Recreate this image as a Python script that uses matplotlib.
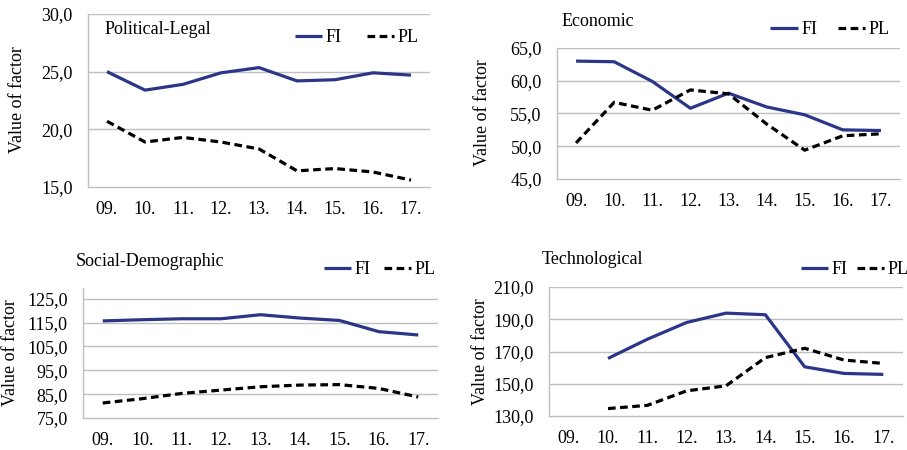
import matplotlib.pyplot as plt
import numpy as np

# Datos
years = ["09.", "10.", "11.", "12.", "13.", "14.", "15.", "16.", "17."]

pol_fi = [25.0, 23.4, 23.9, 24.9, 25.35, 24.2, 24.3, 24.9, 24.7]
pol_pl = [20.7, 18.9, 19.3, 18.9, 18.3, 16.4, 16.6, 16.3, 15.6]

eco_fi = [63.0, 62.9, 59.9, 55.8, 58.1, 56.0, 54.8, 52.5, 52.4]
eco_pl = [50.5, 56.7, 55.5, 58.6, 58.0, 53.4, 49.4, 51.6, 51.9]

soc_fi = [115.7, 116.2, 116.6, 116.6, 118.3, 116.9, 115.9, 111.2, 109.8]
soc_pl = [81.3, 83.1, 85.3, 86.7, 88.1, 88.8, 89.0, 87.4, 83.8]

tec_fi = [np.nan, 165.7, 177.6, 188.0, 193.8, 192.8, 160.5, 156.4, 155.8]
tec_pl = [np.nan, 134.6, 136.6, 145.6, 148.7, 166.2, 172.0, 164.7, 162.6]

W, H = 907, 450
navy = "#2B3688"
grid_c = "#BFBFBF"

plt.rcParams["font.family"] = ["Liberation Serif", "DejaVu Serif"]
plt.rcParams["font.size"] = 13

fig = plt.figure(figsize=(W / 100, H / 100), dpi=100)


def caja(l, r, t, b):
    # convierte pixeles a fracciones de la figura
    return [l / W, 1 - b / H, (r - l) / W, (b - t) / H]


def panel(rect, fi, pl, ymin, ymax, step, ytop):
    ax = fig.add_axes(caja(*rect))
    x = np.arange(len(years))
    ax.plot(x, fi, color=navy, lw=2.3, label="FI", solid_capstyle="butt")
    ax.plot(x, pl, color="black", lw=2.3, ls=(0, (2.4, 1.4)), label="PL")
    ax.set_xlim(-0.5, len(years) - 0.5)
    ax.set_ylim(ymin, ytop)
    ticks = np.arange(ymin, ymax + step / 2, step)
    ax.set_yticks(ticks)
    ax.set_yticklabels([f"{t:.1f}".replace(".", ",") for t in ticks])
    ax.set_xticks(x)
    ax.set_xticklabels(years)
    ax.tick_params(axis="y", length=0, pad=11)
    ax.tick_params(axis="x", length=0, pad=10)
    for t in ticks[1:]:
        ax.axhline(t, color=grid_c, lw=1, zorder=0)
    for s in ["top", "right"]:
        ax.spines[s].set_visible(False)
    for s in ["left", "bottom"]:
        ax.spines[s].set_color(grid_c)
        ax.spines[s].set_linewidth(1)
    return ax


def leyenda(ax, cx, cy, esp):
    ax.legend(loc="center", bbox_to_anchor=(cx / W, 1 - cy / H),
              bbox_transform=fig.transFigure, ncol=2, frameon=False,
              handlelength=1.5, handletextpad=0.2, columnspacing=esp,
              borderpad=0, borderaxespad=0)


ax1 = panel((88, 430, 14, 187), pol_fi, pol_pl, 15, 30, 5, 30)
ax2 = panel((557, 900, 48, 179), eco_fi, eco_pl, 45, 65, 5, 65)
ax3 = panel((83, 438, 288, 418), soc_fi, soc_pl, 75, 125, 10, 129.5)
ax4 = panel((549, 903, 287, 416), tec_fi, tec_pl, 130, 210, 20, 210)

leyenda(ax1, 357, 38, 1.4)
leyenda(ax2, 830, 30, 1.15)
leyenda(ax3, 380, 270, 0.75)
leyenda(ax4, 855, 270, 0.5)

# titulos de cada panel
fig.text(105 / W, 1 - 30 / H, "Political-Legal", ha="left", va="center")
fig.text(562 / W, 1 - 21 / H, "Economic", ha="left", va="center")
fig.text(76 / W, 1 - 262 / H, "Social-Demographic", ha="left", va="center")
fig.text(542 / W, 1 - 260 / H, "Technological", ha="left", va="center")

# etiquetas del eje y
for px, py in [(18, 100), (483, 113), (11, 353), (480, 352)]:
    fig.text(px / W, 1 - py / H, "Value of factor", rotation=90,
             ha="center", va="center")

plt.savefig("out.png", dpi=100)
